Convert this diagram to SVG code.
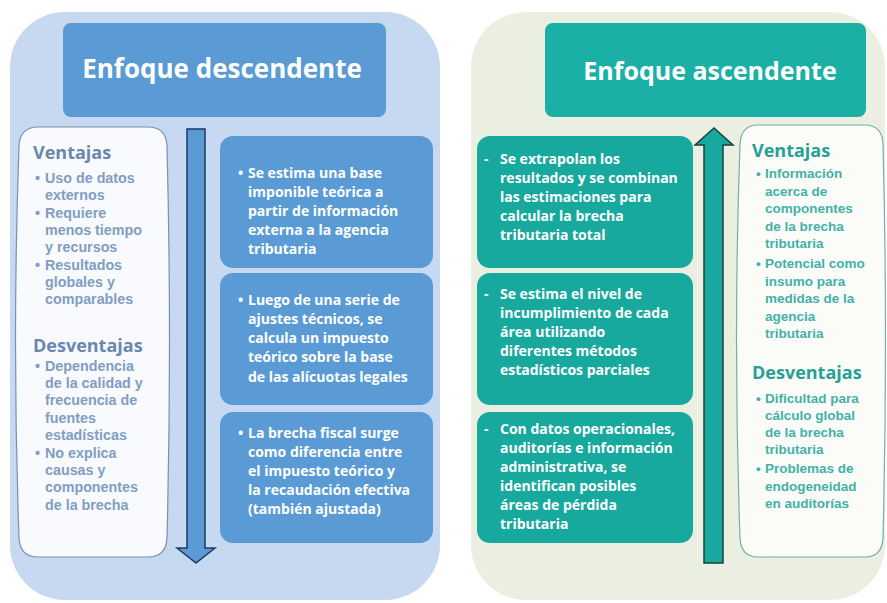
<svg xmlns="http://www.w3.org/2000/svg" width="887" height="603" viewBox="0 0 887 603">
<style>
.title{font-family:"Open Sans","DejaVu Sans",sans-serif;font-weight:700;fill:#ffffff;text-anchor:middle}
.step{font-family:"Open Sans","DejaVu Sans",sans-serif;font-weight:700;font-size:14px;fill:#ffffff}
.hl{font-family:"Open Sans","DejaVu Sans",sans-serif;font-weight:700;font-size:18px;fill:#6a87ae}
.bl{font-family:"Liberation Sans",Arial,sans-serif;font-weight:700;font-size:14.3px;fill:#819dc3}
.hr{font-family:"Open Sans","DejaVu Sans",sans-serif;font-weight:700;font-size:18px;fill:#27a096}
.br{font-family:"Liberation Sans",Arial,sans-serif;font-weight:700;font-size:13.5px;fill:#42b1a8}
.sbl{fill:#5b9bd5}
.sbr{fill:#18a99e}
</style>
<rect width="887" height="603" fill="#ffffff"/>
<g id="panel-left">
<rect x="10" y="12" width="430" height="588" rx="55" fill="#c6d9f0"/>
</g>
<g id="panel-right">
<rect x="471" y="12" width="414" height="588" rx="55" fill="#ebefe1"/>
</g>
<g id="title-left">
<rect x="63" y="23" width="323" height="94" rx="8" fill="#5b9bd5"/>
<text class="title" x="222" y="78" font-size="26">Enfoque descendente</text>
</g>
<g id="title-right">
<rect x="545" y="23" width="321" height="94" rx="8" fill="#1ab0a6"/>
<text class="title" x="710" y="80" font-size="25">Enfoque ascendente</text>
</g>
<g id="connectors">
<path id="arrow-down" d="M187,129 H205 V548 H215 L196,563 L177,548 H187 Z" fill="#5b9bd5" stroke="#1f3864" stroke-width="1.5" stroke-linejoin="miter"/>
<path id="arrow-up" d="M704,563 V145 H695 L714,128 L733,145 H723 V563 Z" fill="#17a89e" stroke="#1d3f3d" stroke-width="1.5" stroke-linejoin="miter"/>
</g>
<g id="pros-cons-left">
<path d="M38,127 H148 Q166,127 167,146 Q172,342 167,538 Q166,557 148,557 H38 Q20,557 19,538 Q12,342 19,146 Q20,127 38,127 Z" fill="#f8fafd" stroke="#7b8fae" stroke-width="1.2"/>
<text class="hl" x="33" y="159">Ventajas</text>
<text class="bl" x="35" y="183">•</text><text class="bl" x="45" y="183">Uso de datos</text>
<text class="bl" x="45" y="200">externos</text>
<text class="bl" x="35" y="218">•</text><text class="bl" x="45" y="218">Requiere</text>
<text class="bl" x="45" y="235">menos tiempo</text>
<text class="bl" x="45" y="252">y recursos</text>
<text class="bl" x="35" y="270">•</text><text class="bl" x="45" y="270">Resultados</text>
<text class="bl" x="45" y="287">globales y</text>
<text class="bl" x="45" y="304">comparables</text>
<text class="hl" x="33" y="352">Desventajas</text>
<text class="bl" x="35" y="371">•</text><text class="bl" x="45" y="371">Dependencia</text>
<text class="bl" x="45" y="388">de la calidad y</text>
<text class="bl" x="45" y="405">frecuencia de</text>
<text class="bl" x="45" y="423">fuentes</text>
<text class="bl" x="45" y="440">estadísticas</text>
<text class="bl" x="35" y="458">•</text><text class="bl" x="45" y="458">No explica</text>
<text class="bl" x="45" y="475">causas y</text>
<text class="bl" x="45" y="492">componentes</text>
<text class="bl" x="45" y="510">de la brecha</text>
</g>
<g id="step-left-1">
<rect class="sbl" x="220" y="136" width="213" height="132" rx="13"/>
<text class="step" x="238" y="178">•</text><text class="step" x="248" y="178">Se estima una base</text>
<text class="step" x="248" y="197">imponible teórica a</text>
<text class="step" x="248" y="216">partir de información</text>
<text class="step" x="248" y="235">externa a la agencia</text>
<text class="step" x="248" y="254">tributaria</text>
</g>
<g id="step-left-2">
<rect class="sbl" x="220" y="273" width="213" height="132" rx="13"/>
<text class="step" x="238" y="305">•</text><text class="step" x="248" y="305">Luego de una serie de</text>
<text class="step" x="248" y="324">ajustes técnicos, se</text>
<text class="step" x="248" y="343">calcula un impuesto</text>
<text class="step" x="248" y="362">teórico sobre la base</text>
<text class="step" x="248" y="382">de las alícuotas legales</text>
</g>
<g id="step-left-3">
<rect class="sbl" x="220" y="412" width="213" height="131" rx="13"/>
<text class="step" x="238" y="438">•</text><text class="step" x="248" y="438">La brecha fiscal surge</text>
<text class="step" x="248" y="457">como diferencia entre</text>
<text class="step" x="248" y="476">el impuesto  teórico y</text>
<text class="step" x="248" y="495">la recaudación efectiva</text>
<text class="step" x="248" y="514">(también ajustada)</text>
</g>
<g id="step-right-1">
<rect class="sbr" x="477" y="136" width="216" height="132" rx="13"/>
<text class="step" x="484" y="164">-</text><text class="step" x="500" y="164">Se extrapolan los</text>
<text class="step" x="500" y="183">resultados y se combinan</text>
<text class="step" x="500" y="202">las estimaciones para</text>
<text class="step" x="500" y="221">calcular la brecha</text>
<text class="step" x="500" y="240">tributaria total</text>
</g>
<g id="step-right-2">
<rect class="sbr" x="477" y="273" width="216" height="132" rx="13"/>
<text class="step" x="484" y="299">-</text><text class="step" x="500" y="299">Se estima el nivel de</text>
<text class="step" x="500" y="318">incumplimiento de cada</text>
<text class="step" x="500" y="337">área utilizando</text>
<text class="step" x="500" y="356">diferentes métodos</text>
<text class="step" x="500" y="375">estadísticos parciales</text>
</g>
<g id="step-right-3">
<rect class="sbr" x="477" y="412" width="216" height="131" rx="13"/>
<text class="step" x="484" y="434">-</text><text class="step" x="500" y="434">Con datos operacionales,</text>
<text class="step" x="500" y="453">auditorías e información</text>
<text class="step" x="500" y="472">administrativa, se</text>
<text class="step" x="500" y="491">identifican posibles</text>
<text class="step" x="500" y="510">áreas de pérdida</text>
<text class="step" x="500" y="529">tributaria</text>
</g>
<g id="pros-cons-right">
<path d="M758,125 H865 Q882,125 883,144 Q888,341 883,538 Q882,557 865,557 H758 Q741,557 740,538 Q733,341 740,144 Q741,125 758,125 Z" fill="#fbfcf8" stroke="#6fb0a8" stroke-width="1.2"/>
<text class="hr" x="752" y="157">Ventajas</text>
<text class="br" x="756" y="178">•</text><text class="br" x="765" y="178">Información</text>
<text class="br" x="765" y="195.5">acerca de</text>
<text class="br" x="765" y="213">componentes</text>
<text class="br" x="765" y="230.5">de la brecha</text>
<text class="br" x="765" y="248">tributaria</text>
<text class="br" x="756" y="268">•</text><text class="br" x="765" y="268">Potencial como</text>
<text class="br" x="765" y="285.5">insumo para</text>
<text class="br" x="765" y="303">medidas de la</text>
<text class="br" x="765" y="320.5">agencia</text>
<text class="br" x="765" y="338">tributaria</text>
<text class="hr" x="752" y="379">Desventajas</text>
<text class="br" x="756" y="403">•</text><text class="br" x="765" y="403">Dificultad para</text>
<text class="br" x="765" y="420">cálculo global</text>
<text class="br" x="765" y="437">de la brecha</text>
<text class="br" x="765" y="454">tributaria</text>
<text class="br" x="756" y="473">•</text><text class="br" x="765" y="473">Problemas de</text>
<text class="br" x="765" y="490.5">endogeneidad</text>
<text class="br" x="765" y="508">en auditorías</text>
</g>
</svg>
